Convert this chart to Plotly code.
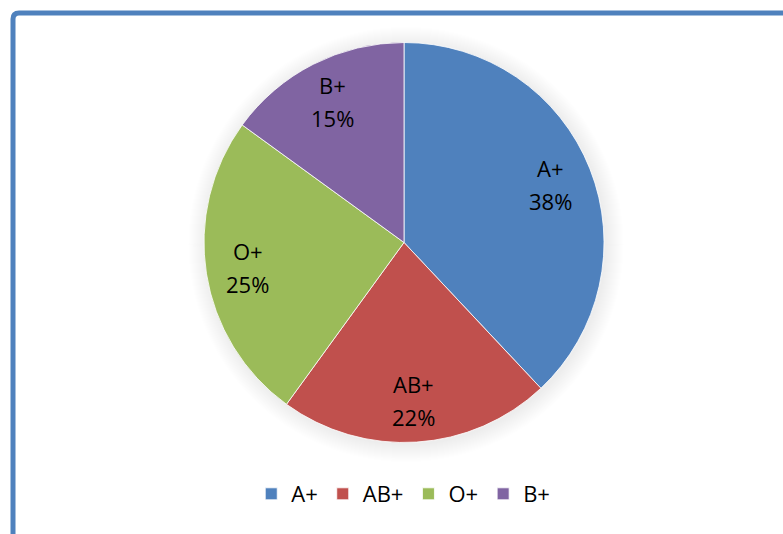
import math
import plotly.graph_objects as go

# Blood group distribution
groups = ["A+", "AB+", "O+", "B+"]
shares = [38, 22, 25, 15]
colors = ["#4F81BD", "#C0504D", "#9BBB59", "#8064A2"]

W, H = 783, 534
CX, CY, R = 404, 242.5, 200  # pie centre and radius in pixels

fig = go.Figure(
    go.Pie(
        labels=groups,
        values=shares,
        sort=False,
        direction="clockwise",
        rotation=0,
        marker=dict(colors=colors, line=dict(color="rgba(255,255,255,0.8)", width=1)),
        textinfo="none",
        hoverinfo="label+percent",
        domain=dict(
            x=[(CX - R) / W, (CX + R) / W],
            y=[1 - (CY + R) / H, 1 - (CY - R) / H],
        ),
    )
)

# Soft halo behind the pie
for k in range(1, 19):
    rr = R + k
    fig.add_shape(
        type="circle", xref="paper", yref="paper", layer="below",
        x0=(CX + 2 - rr) / W, x1=(CX + 2 + rr) / W,
        y0=1 - (CY + 2 + rr) / H, y1=1 - (CY + 2 - rr) / H,
        fillcolor="rgba(0,0,0,0.0035)", line=dict(width=0),
    )

# Slice labels placed along each slice's mid-angle
font = dict(family="Open Sans", size=22, color="#000000")
total = sum(shares)
acc = 0
for g, v in zip(groups, shares):
    mid = (acc + v / 2) / total * 2 * math.pi
    acc += v
    px = CX + 0.79 * R * math.sin(mid)
    py = CY - 0.79 * R * math.cos(mid)
    pct = f"{round(v / total * 100)}%"
    for txt, shift in ((g, 16.5), (pct, -16.5)):
        fig.add_annotation(
            x=px / W, y=1 - py / H, xref="paper", yref="paper",
            text=txt, showarrow=False, font=font, yshift=shift,
            xanchor="center", yanchor="middle",
        )

# Rounded blue frame around the chart
fig.add_shape(
    type="path", xref="paper", yref="paper",
    path=(
        f"M {13/W},{1 - 800/H} L {13/W},{1 - 19/H} "
        f"Q {13/W},{1 - 13/H} {19/W},{1 - 13/H} L {900/W},{1 - 13/H}"
    ),
    line=dict(color="#4F81BD", width=5),
)

fig.update_layout(
    width=W, height=H,
    margin=dict(l=0, r=0, t=0, b=0),
    paper_bgcolor="white",
    plot_bgcolor="white",
    showlegend=True,
    legend=dict(
        orientation="h", x=0.515, xanchor="center", y=1 - 494 / H, yanchor="middle",
        font=dict(family="Open Sans", size=22, color="#000000"),
        itemclick=False, itemdoubleclick=False,
    ),
)

fig.write_html("out.html")
